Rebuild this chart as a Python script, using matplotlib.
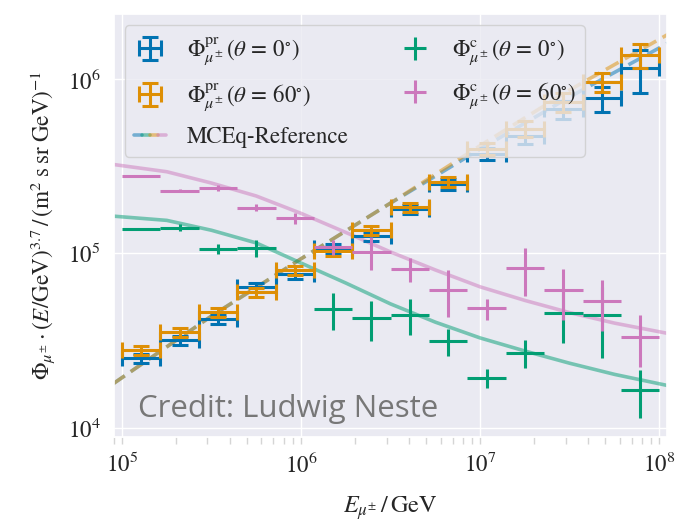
import numpy as np
import matplotlib
matplotlib.use("Agg")
import matplotlib.pyplot as plt
from matplotlib.lines import Line2D
from matplotlib.legend_handler import HandlerTuple
import seaborn as sns

# energy binning of the unfolding: 14 log bins between 1e5 and 1e8 GeV
bin_edges = np.logspace(5, 8, 15)

# prompt muon flux (E^3.7 weighted), zenith 0 and 60 deg
prompt_0 = [2.50e4, 3.18e4, 4.19e4, 6.40e4, 7.60e4, 1.07e5, 1.26e5,
            1.80e5, 2.50e5, 3.73e5, 4.72e5, 6.73e5, 7.78e5, 1.16e6]
prompt_0_err = [1.5e3, 1.9e3, 2.5e3, 3.8e3, 4.6e3, 6.4e3, 7.6e3,
                1.1e4, 1.75e4, 3.0e4, 4.7e4, 8.1e4, 1.3e5, 3.2e5]
prompt_60 = [2.78e4, 3.54e4, 4.61e4, 6.00e4, 8.00e4, 1.03e5, 1.36e5,
             1.84e5, 2.58e5, 4.00e5, 5.22e5, 7.43e5, 9.68e5, 1.38e6]
prompt_60_err = [1.7e3, 2.1e3, 2.8e3, 3.6e3, 4.8e3, 6.2e3, 8.2e3,
                 1.1e4, 1.8e4, 3.2e4, 5.2e4, 8.9e4, 1.25e5, 2.1e5]

# conventional muon flux
conv_0 = [1.38e5, 1.41e5, 1.06e5, 1.08e5, np.nan, 4.79e4, 4.25e4,
          4.42e4, 3.13e4, 1.93e4, 2.69e4, 4.56e4, 4.46e4, 1.64e4]
conv_0_err = [1.8e3, 6.2e3, 6.8e3, 1.19e4, np.nan, 1.16e4, 1.1e4,
              1.04e4, 5.5e3, 2.45e3, 5.0e3, 1.52e4, 1.94e4, 5.0e3]
conv_60 = [2.79e5, 2.30e5, 2.37e5, 1.83e5, 1.59e5, 1.09e5, 1.02e5,
           8.18e4, 6.15e4, 4.83e4, 8.20e4, 6.15e4, 5.32e4, 3.32e4]
conv_60_err = [5e2, 4.6e3, 9e3, 8.5e3, 1.2e4, 1.05e4, 2.2e4,
               1.3e4, 1.85e4, 6.8e3, 2.5e4, 2.0e4, 1.75e4, 1.1e4]

# MCEq reference curves
mceq_prompt_E = [8.9e4, 3.16e5, 1e6, 3.16e6, 1e7, 3.16e7, 1.12e8]
mceq_prompt_0 = [1.78e4, 4.37e4, 9.33e4, 1.95e5, 3.98e5, 7.94e5, 1.62e6]
mceq_prompt_60 = [1.78e4, 4.37e4, 9.33e4, 1.95e5, 4.17e5, 8.71e5, 1.82e6]

mceq_conv_E = [8.91e4, 1.78e5, 3.16e5, 5.62e5, 1e6, 1.78e6, 3.16e6,
               5.62e6, 1e7, 1.78e7, 3.16e7, 5.62e7, 1.12e8]
mceq_conv_0 = [1.64e5, 1.55e5, 1.36e5, 1.15e5, 8.81e4, 6.76e4, 5.13e4,
               4.03e4, 3.27e4, 2.75e4, 2.34e4, 2.02e4, 1.74e4]
mceq_conv_60 = [3.25e5, 2.95e5, 2.54e5, 2.14e5, 1.70e5, 1.32e5, 1.02e5,
                8.04e4, 6.43e4, 5.37e4, 4.57e4, 3.98e4, 3.47e4]


def main():
    sns.set_theme(style='darkgrid')
    plt.rcParams['font.family'] = ['STIXGeneral', 'DejaVu Sans']
    plt.rcParams['mathtext.fontset'] = 'stix'
    plt.rcParams['xtick.bottom'] = True
    plt.rcParams['xtick.minor.visible'] = True

    c = sns.color_palette('colorblind')
    blue, orange, green, pink = c[0], c[1], c[2], c[4]

    centers = np.sqrt(bin_edges[:-1] * bin_edges[1:])
    xerr = [centers - bin_edges[:-1], bin_edges[1:] - centers]

    fig = plt.figure(figsize=(6.77, 5.28), dpi=100)
    ax = fig.add_axes([0.168, 0.172, 0.817, 0.801])

    ax.plot(mceq_prompt_E, mceq_prompt_0, color=blue, alpha=0.5, lw=2.6, ls=(0, (4, 2)))
    ax.plot(mceq_prompt_E, mceq_prompt_60, color=orange, alpha=0.5, lw=2.6, ls=(0, (4, 2)))
    ax.plot(mceq_conv_E, mceq_conv_0, color=green, alpha=0.5, lw=2.6)
    ax.plot(mceq_conv_E, mceq_conv_60, color=pink, alpha=0.5, lw=2.6)

    h_p0 = ax.errorbar(centers, prompt_0, xerr=xerr, yerr=prompt_0_err, fmt='none',
                       color=blue, elinewidth=2.2, capsize=6, capthick=2.2)
    h_p60 = ax.errorbar(centers, prompt_60, xerr=xerr, yerr=prompt_60_err, fmt='none',
                        color=orange, elinewidth=2.2, capsize=6, capthick=2.2)
    h_c0 = ax.errorbar(centers, conv_0, xerr=xerr, yerr=conv_0_err, fmt='none',
                       color=green, elinewidth=2.2)
    h_c60 = ax.errorbar(centers, conv_60, xerr=xerr, yerr=conv_60_err, fmt='none',
                        color=pink, elinewidth=2.2)

    ax.set_xscale('log')
    ax.set_yscale('log')
    ax.set_xlim(9.0e4, 1.1e8)
    ax.set_ylim(8.8e3, 2.37e6)
    ax.tick_params(axis='both', which='major', labelsize=16.5)
    ax.tick_params(axis='x', which='both', direction='out', color='#d5d5d5',
                   length=5, width=1)
    ax.tick_params(axis='x', which='major', pad=6)
    ax.tick_params(axis='y', which='both', left=False)
    ax.grid(which='minor', visible=False)

    ax.set_xlabel(r'$E_{\mu^{\pm}}\,/\,\mathrm{GeV}$', fontsize=17.5, labelpad=12)
    ax.set_ylabel(r'$\Phi_{\mu^{\pm}}\cdot(E/\mathrm{GeV})^{3.7}\,/\,'
                  r'(\mathrm{m}^2\;\mathrm{s\;sr\;GeV})^{-1}$', fontsize=16.7,
                  labelpad=8)

    ax.text(0.043, 0.047, 'Credit: Ludwig Neste', transform=ax.transAxes,
            fontsize=22.5, color='#777777', family='Open Sans', va='baseline')

    mceq = tuple(Line2D([], [], color=col, alpha=0.5, lw=2.6)
                 for col in (blue, green, orange, pink))
    handles = [h_p0, h_p60, mceq, h_c0, h_c60]
    labels = [r'$\Phi^{\mathrm{pr}}_{\mu^{\pm}}\,(\theta\,=\,0^{\circ})$',
              r'$\Phi^{\mathrm{pr}}_{\mu^{\pm}}\,(\theta\,=\,60^{\circ})$',
              'MCEq-Reference',
              r'$\Phi^{\mathrm{c}}_{\mu^{\pm}}\,(\theta\,=\,0^{\circ})$',
              r'$\Phi^{\mathrm{c}}_{\mu^{\pm}}\,(\theta\,=\,60^{\circ})$']
    ax.legend(handles, labels, ncol=2, loc='upper left', fontsize=16.5,
              handler_map={tuple: HandlerTuple(ndivide=None, pad=0)},
              bbox_to_anchor=(0.02, 0.974), borderaxespad=0,
              handlelength=1.4, handletextpad=0.9, columnspacing=2.2,
              labelspacing=0.58, framealpha=0.8, edgecolor='#cccccc')

    fig.savefig('out.png', dpi=100)


if __name__ == '__main__':
    main()
